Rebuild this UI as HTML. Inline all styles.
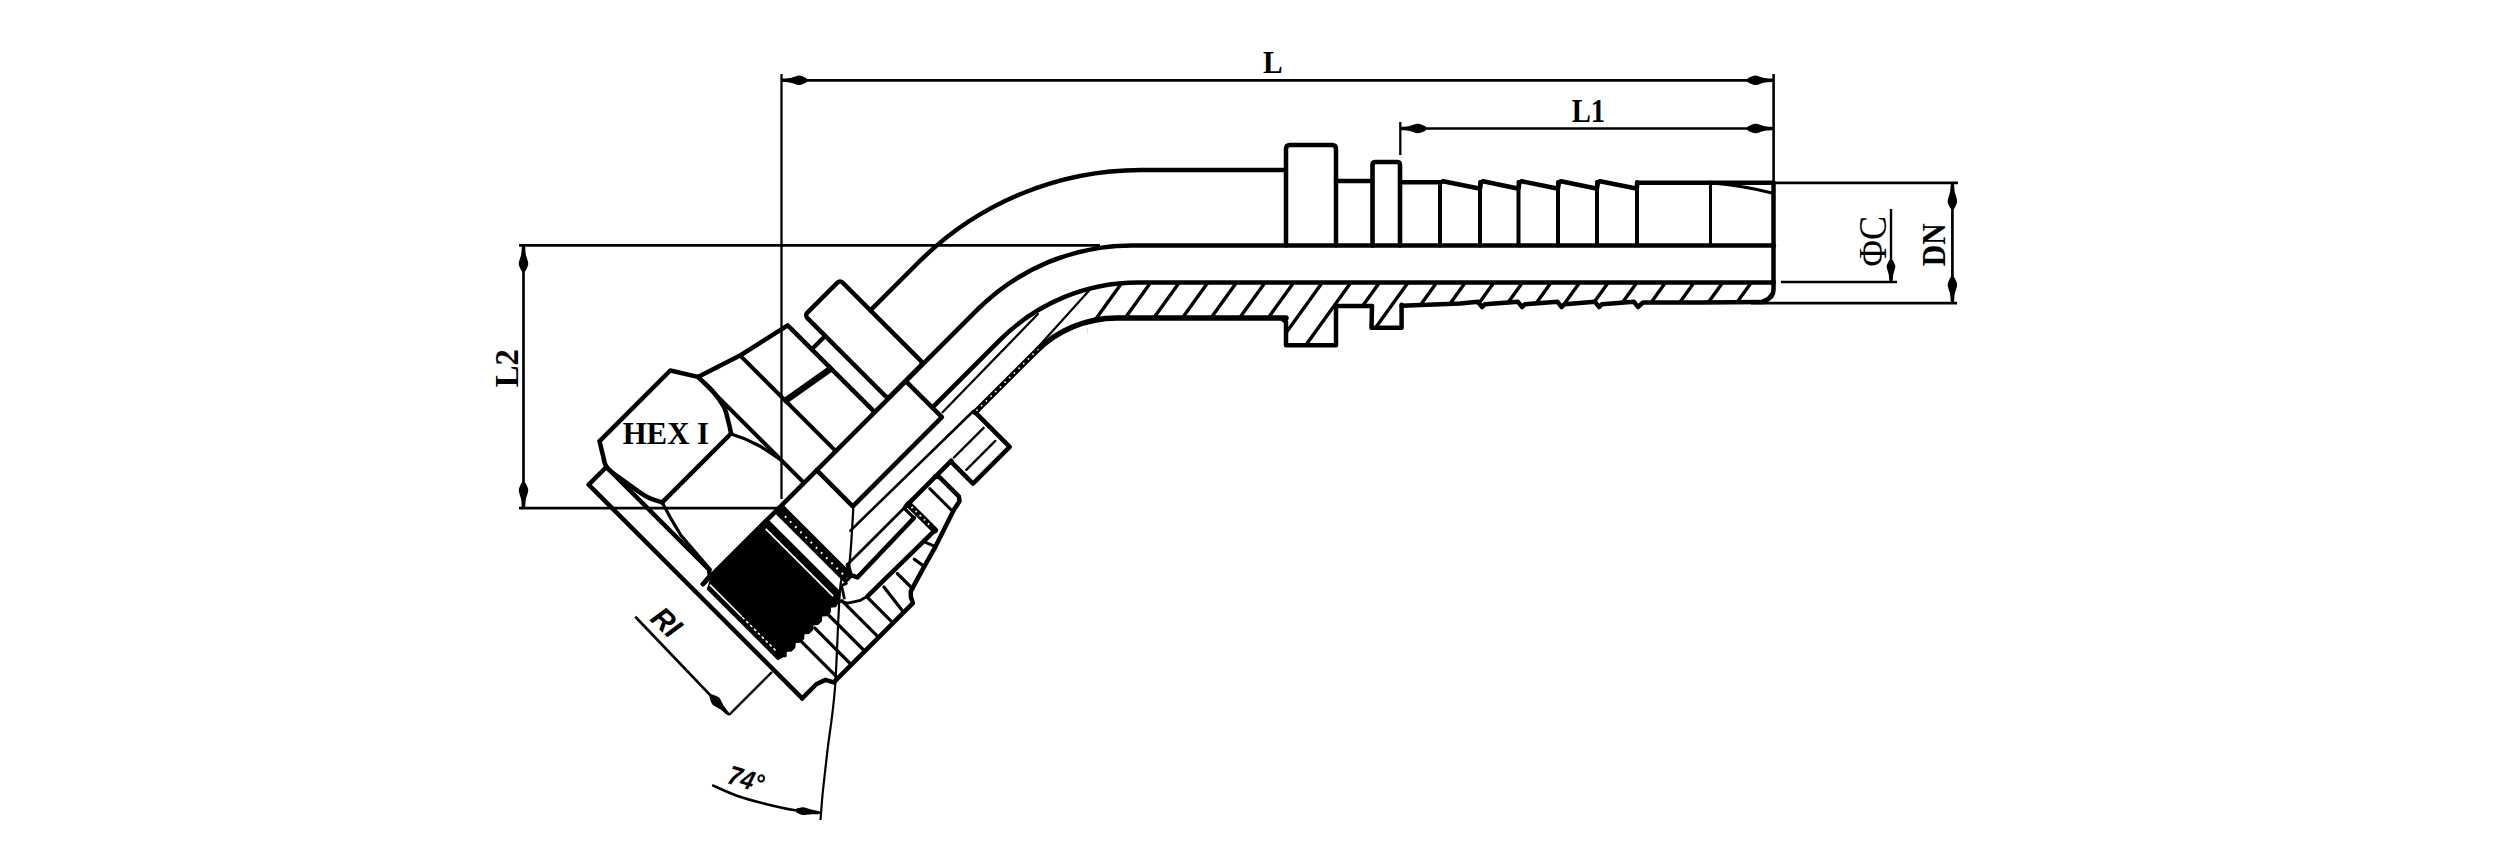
<!DOCTYPE html>
<html><head><meta charset="utf-8"><style>
html,body{margin:0;padding:0;background:#fff;width:2500px;height:854px;overflow:hidden}
svg{display:block}
</style></head><body>
<svg width="2500" height="854" viewBox="0 0 2500 854"><g stroke="#000" fill="none" stroke-linecap="butt">
<line x1="781" y1="80.3" x2="1773.5" y2="80.3" stroke-width="2.7"/>
<path d="M782.5,78.6 C783.7,78.5 787.3,78.4 789.7,78 C792.1,77.6 795.1,76.3 796.9,75.9 C798.7,75.5 799.3,75.5 800.5,75.7 C801.7,75.9 803,76.5 804.1,77.1 C805.2,77.6 806.5,78.1 807,78.9 C807.5,79.7 807.5,80.9 807,81.7 C806.5,82.5 805.2,83 804.1,83.5 C803,84.1 801.7,84.7 800.5,84.9 C799.3,85.1 798.7,85.1 796.9,84.7 C795.1,84.3 792.1,83 789.7,82.6 C787.3,82.2 783.7,82.1 782.5,82 Z" fill="#000" stroke="none"/>
<path d="M1772,82 C1770.8,82.1 1767.2,82.2 1764.8,82.6 C1762.4,83 1759.4,84.3 1757.6,84.7 C1755.8,85.1 1755.2,85.1 1754,84.9 C1752.8,84.7 1751.5,84.1 1750.4,83.5 C1749.3,83 1748,82.5 1747.5,81.7 C1747,80.9 1747,79.7 1747.5,78.9 C1748,78.1 1749.3,77.6 1750.4,77.1 C1751.5,76.5 1752.8,75.9 1754,75.7 C1755.2,75.5 1755.8,75.5 1757.6,75.9 C1759.4,76.3 1762.4,77.6 1764.8,78 C1767.2,78.4 1770.8,78.5 1772,78.6 Z" fill="#000" stroke="none"/>
<line x1="781.5" y1="74" x2="781.5" y2="499" stroke-width="2.3"/>
<line x1="1773.6" y1="74" x2="1773.6" y2="185" stroke-width="2.6"/>
<line x1="1400" y1="128.5" x2="1773.5" y2="128.5" stroke-width="2.7"/>
<path d="M1401.5,126.8 C1402.7,126.7 1406.3,126.6 1408.7,126.2 C1411.1,125.8 1414.1,124.5 1415.9,124.1 C1417.7,123.7 1418.3,123.7 1419.5,123.9 C1420.7,124.1 1422,124.7 1423.1,125.3 C1424.2,125.8 1425.5,126.3 1426,127.1 C1426.5,127.9 1426.5,129.1 1426,129.9 C1425.5,130.7 1424.2,131.2 1423.1,131.7 C1422,132.3 1420.7,132.9 1419.5,133.1 C1418.3,133.3 1417.7,133.3 1415.9,132.9 C1414.1,132.5 1411.1,131.2 1408.7,130.8 C1406.3,130.4 1402.7,130.3 1401.5,130.2 Z" fill="#000" stroke="none"/>
<path d="M1772,130.2 C1770.8,130.3 1767.2,130.4 1764.8,130.8 C1762.4,131.2 1759.4,132.5 1757.6,132.9 C1755.8,133.3 1755.2,133.3 1754,133.1 C1752.8,132.9 1751.5,132.3 1750.4,131.7 C1749.3,131.2 1748,130.7 1747.5,129.9 C1747,129.1 1747,127.9 1747.5,127.1 C1748,126.3 1749.3,125.8 1750.4,125.3 C1751.5,124.7 1752.8,124.1 1754,123.9 C1755.2,123.7 1755.8,123.7 1757.6,124.1 C1759.4,124.5 1762.4,125.8 1764.8,126.2 C1767.2,126.6 1770.8,126.7 1772,126.8 Z" fill="#000" stroke="none"/>
<line x1="1400.3" y1="122" x2="1400.3" y2="155" stroke-width="2.3"/>
<line x1="519" y1="245.4" x2="1100" y2="245.4" stroke-width="2.7"/>
<line x1="519" y1="508.2" x2="777" y2="508.2" stroke-width="2.7"/>
<line x1="523.5" y1="246" x2="523.5" y2="508" stroke-width="2.7"/>
<path d="M525.2,247 C525.3,248.2 525.4,251.8 525.8,254.2 C526.2,256.6 527.5,259.6 527.9,261.4 C528.3,263.2 528.3,263.8 528.1,265 C527.9,266.2 527.3,267.5 526.7,268.6 C526.2,269.7 525.7,271 524.9,271.5 C524.1,272 522.9,272 522.1,271.5 C521.3,271 520.8,269.7 520.3,268.6 C519.7,267.5 519.1,266.2 518.9,265 C518.7,263.8 518.7,263.2 519.1,261.4 C519.5,259.6 520.8,256.6 521.2,254.2 C521.6,251.8 521.7,248.2 521.8,247 Z" fill="#000" stroke="none"/>
<path d="M521.8,507 C521.7,505.8 521.6,502.2 521.2,499.8 C520.8,497.4 519.5,494.4 519.1,492.6 C518.7,490.8 518.7,490.2 518.9,489 C519.1,487.8 519.7,486.5 520.3,485.4 C520.8,484.3 521.3,483 522.1,482.5 C522.9,482 524.1,482 524.9,482.5 C525.7,483 526.2,484.3 526.7,485.4 C527.3,486.5 527.9,487.8 528.1,489 C528.3,490.2 528.3,490.8 527.9,492.6 C527.5,494.4 526.2,497.4 525.8,499.8 C525.4,502.2 525.3,505.8 525.2,507 Z" fill="#000" stroke="none"/>
<line x1="1773.5" y1="182.8" x2="1958" y2="182.8" stroke-width="2.7"/>
<line x1="1751" y1="303.2" x2="1957" y2="303.2" stroke-width="2.7"/>
<line x1="1952.4" y1="183" x2="1952.4" y2="303" stroke-width="2.7"/>
<path d="M1954.1,184.5 C1954.2,185.7 1954.3,189.3 1954.7,191.7 C1955.1,194.1 1956.4,197.1 1956.8,198.9 C1957.2,200.7 1957.2,201.3 1957,202.5 C1956.8,203.7 1956.2,205 1955.6,206.1 C1955.1,207.2 1954.6,208.5 1953.8,209 C1953,209.5 1951.8,209.5 1951,209 C1950.2,208.5 1949.7,207.2 1949.2,206.1 C1948.6,205 1948,203.7 1947.8,202.5 C1947.6,201.3 1947.6,200.7 1948,198.9 C1948.4,197.1 1949.7,194.1 1950.1,191.7 C1950.5,189.3 1950.6,185.7 1950.7,184.5 Z" fill="#000" stroke="none"/>
<path d="M1950.7,301.5 C1950.6,300.3 1950.5,296.7 1950.1,294.3 C1949.7,291.9 1948.4,288.9 1948,287.1 C1947.6,285.3 1947.6,284.7 1947.8,283.5 C1948,282.3 1948.6,281 1949.2,279.9 C1949.7,278.8 1950.2,277.5 1951,277 C1951.8,276.5 1953,276.5 1953.8,277 C1954.6,277.5 1955.1,278.8 1955.6,279.9 C1956.2,281 1956.8,282.3 1957,283.5 C1957.2,284.7 1957.2,285.3 1956.8,287.1 C1956.4,288.9 1955.1,291.9 1954.7,294.3 C1954.3,296.7 1954.2,300.3 1954.1,301.5 Z" fill="#000" stroke="none"/>
<line x1="1781" y1="282" x2="1897" y2="282" stroke-width="2.7"/>
<line x1="1891" y1="209" x2="1891" y2="281" stroke-width="2.4"/>
<path d="M1889.3,280.5 C1889.2,279.5 1889.1,276.5 1888.7,274.5 C1888.3,272.5 1887.3,270 1887,268.5 C1886.7,267 1886.6,266.5 1886.8,265.5 C1887,264.5 1887.6,263.4 1888.1,262.5 C1888.5,261.6 1888.9,260.5 1889.6,260.1 C1890.3,259.7 1891.7,259.7 1892.4,260.1 C1893.1,260.5 1893.5,261.6 1893.9,262.5 C1894.4,263.4 1895,264.5 1895.2,265.5 C1895.4,266.5 1895.3,267 1895,268.5 C1894.7,270 1893.7,272.5 1893.3,274.5 C1892.9,276.5 1892.8,279.5 1892.7,280.5 Z" fill="#000" stroke="none"/>
<line x1="635.3" y1="616.7" x2="729.1" y2="714.9" stroke-width="2.7"/>
<path d="M726.3,714.5 C725.4,713.7 722.8,711.1 720.9,709.7 C718.9,708.2 715.9,706.9 714.4,705.9 C712.9,704.8 712.4,704.4 711.8,703.4 C711.1,702.4 710.6,701 710.3,699.9 C709.9,698.7 709.4,697.4 709.6,696.5 C709.8,695.7 710.7,694.8 711.6,694.6 C712.5,694.4 713.8,695 714.9,695.4 C716.1,695.9 717.5,696.4 718.4,697.1 C719.4,697.8 719.8,698.3 720.7,699.9 C721.7,701.4 722.9,704.5 724.2,706.5 C725.5,708.5 728,711.2 728.7,712.1 Z" fill="#000" stroke="none"/>
<line x1="729.1" y1="714.9" x2="772" y2="672" stroke-width="2.4"/>
<path d="M853.5,505 C852.8,515.3 851.1,553.8 849,567 C846.9,580.2 843,564.1 840.6,584.4 C838.2,604.7 837.1,661.4 834.9,689 C832.7,716.6 829.5,733.2 827.5,750 C825.5,766.8 824.2,778.3 823,790 C821.8,801.7 820.9,815 820.5,820" stroke-width="2.2" fill="none" />
<path d="M712.2,785.1 C716.4,786.9 728.6,792.8 737.5,795.9 C746.4,799 756.2,801.5 765.6,803.9 C775,806.2 784.6,808.5 793.7,810 C802.8,811.5 815.6,812.3 820,812.8" stroke-width="2.6" fill="none" />
<path d="M818.3,814.4 C817.2,814.4 813.9,814.2 811.7,814.3 C809.5,814.4 806.7,814.9 805,815 C803.3,815.1 802.8,815.1 801.7,814.8 C800.6,814.6 799.5,813.9 798.5,813.4 C797.6,812.9 796.4,812.6 796,811.9 C795.7,811.1 795.8,809.7 796.3,809.1 C796.8,808.4 798,808.4 799.1,808.1 C800.1,807.8 801.3,807.3 802.5,807.3 C803.6,807.2 804.1,807.4 805.7,807.8 C807.3,808.2 810,809.2 812.2,809.8 C814.3,810.3 817.6,810.8 818.7,811 Z" fill="#000" stroke="none"/>
</g>
<g stroke="#000" fill="none" stroke-linejoin="round" stroke-linecap="round">
<defs><clipPath id="hc"><polygon points="1088.9,288.9 1092.6,288 1096.3,287.1 1100.1,286.3 1103.9,285.6 1107.6,285 1111.4,284.4 1115.2,284 1119,283.5 1122.8,283.2 1126.7,282.9 1130.5,282.8 1134.3,282.6 1138.1,282.6 1774,282.6 1774,296 1766,303 1401.6,304.8 1401.6,327.8 1371.6,327.8 1371.6,306 1336.5,306 1336.5,345.3 1285.9,345.3 1285.9,318 1117,318 1114.7,318 1112.5,318.1 1110.2,318.2 1108,318.4 1105.7,318.6 1103.5,318.8 1101.2,319.1 1099,319.4 1096.8,319.8 1094.5,320.2 1092.3,320.7 1090.1,321.2 1087.9,321.7 1086,400"/></clipPath></defs>
<path d="M1016.3,350 L1073.9,270 M1044.9,350 L1102.5,270 M1073.5,350 L1131.1,270 M1102.1,350 L1159.7,270 M1130.7,350 L1188.3,270 M1159.3,350 L1216.9,270 M1187.9,350 L1245.5,270 M1216.5,350 L1274.1,270 M1245.1,350 L1302.7,270 M1273.7,350 L1331.3,270 M1302.3,350 L1359.9,270 M1330.9,350 L1388.5,270 M1359.5,350 L1417.1,270 M1388.1,350 L1445.7,270 M1416.7,350 L1474.3,270 M1445.3,350 L1502.9,270 M1473.9,350 L1531.5,270 M1502.5,350 L1560.1,270 M1531.1,350 L1588.7,270 M1559.7,350 L1617.3,270 M1588.3,350 L1645.9,270 M1616.9,350 L1674.5,270 M1645.5,350 L1703.1,270 M1674.1,350 L1731.7,270 M1702.7,350 L1760.3,270 M1731.3,350 L1788.9,270 M1759.9,350 L1817.5,270 M1788.5,350 L1846.1,270" stroke-width="3.4" clip-path="url(#hc)"/>
<path d="M870.4,310.4 L918.6,262.3 A315,315 0 0 1 1141.3,170 L1286,170" stroke-width="4.4" fill="none" />
<path d="M702.9,584.1 L977.6,309.4 A218,218 0 0 1 1131.7,245.5 L1774,245.5" stroke-width="4.5" fill="none" />
<path d="M932.3,407.6 L1000.3,339.7 A195,195 0 0 1 1138.1,282.6 L1774,282.6" stroke-width="4.5" fill="none" />
<path d="M975.1,412.2 L1035.7,351.7 A115,115 0 0 1 1117,318 L1286,318" stroke-width="5.5" fill="none" />
<path d="M1286,245.5 L1286,149 Q1286,145 1290,145 L1332,145 Q1336,145 1336,149 L1336,245.5" stroke-width="4.5" fill="none" />
<polyline points="1282,318.5 1286,322 1286,345.3 1336,345.3 1336,306" stroke-width="4.5" fill="none" />
<line x1="1336" y1="181" x2="1372" y2="181" stroke-width="4.5"/>
<line x1="1336.5" y1="306" x2="1372" y2="306" stroke-width="4.5"/>
<path d="M1372.5,245.5 L1372.5,165 Q1372.5,162 1375.5,162 L1397,162 Q1400,162 1400,165 L1400,245.5" stroke-width="4.6" fill="none" />
<polyline points="1372,306 1371.5,327.8 1401.6,327.8 1401.6,304.8" stroke-width="4.5" fill="none" />
<polyline points="1400,182.2 1440,182.2 1441,182.5 1443,181.2 1478,188.3 1480,188.5 1481,182.5 1483,181.2 1516.5,188.3 1518.5,188.5 1519.5,182.5 1521.5,181.2 1556,188.3 1558,188.5 1559,182.5 1561,181.2 1595,188.3 1597,188.5 1598,182.5 1600,181.2 1635,188.3 1637,188.5 1637,182.8 1773.5,182.8" stroke-width="4.5" fill="none" />
<line x1="1440" y1="182" x2="1440" y2="245.5" stroke-width="4"/>
<line x1="1480" y1="182" x2="1480" y2="245.5" stroke-width="4"/>
<line x1="1518.5" y1="182" x2="1518.5" y2="245.5" stroke-width="4"/>
<line x1="1558" y1="182" x2="1558" y2="245.5" stroke-width="4"/>
<line x1="1597" y1="182" x2="1597" y2="245.5" stroke-width="4"/>
<line x1="1637" y1="182" x2="1637" y2="245.5" stroke-width="4"/>
<line x1="1710.5" y1="182" x2="1710.5" y2="245.5" stroke-width="3"/>
<path d="M1713,183 Q1745,186 1772,193" stroke-width="3" fill="none" />
<path d="M1773.5,183 L1773.5,290 Q1773.5,298 1764,301" stroke-width="4.5" fill="none" />
<polyline points="1764,302 1700,302.5 1643,302.5 1641,304.2 1638,307 1634,301.8 1605,304 1602,304.2 1599,307 1595,301.8 1567.5,304 1564.5,304.2 1561.5,307 1557.5,301.8 1528,304 1525,304.2 1522,307 1518,301.8 1488,304 1485,304.2 1482,307 1478,301.8 1460,303.5 1401.6,305.8" stroke-width="4.5" fill="none" />
</g>
<g stroke="#000" fill="none" stroke-linejoin="round" stroke-linecap="round">
<polyline points="695.4,591.5 588.7,484.7 606.4,467 708.9,569.5 709.9,575.6 702.9,584.1" stroke-width="4.5" fill="none" />
<line x1="695.4" y1="591.5" x2="802.2" y2="698.3" stroke-width="4.5"/>
<path d="M599.6,441.2 C600.2,443.5 601.6,450.2 602.8,454.6 C604.1,459 603.6,463.3 607.1,467.7 C610.6,472.1 617.1,476 623.7,480.8 C630.3,485.7 640.3,493.2 646.7,496.8 C653.1,500.4 659.6,501.5 662.2,502.4" stroke-width="4.5" fill="none" />
<polyline points="599.6,441.2 670.3,370.5 697.9,376.9" stroke-width="4.5" fill="none" />
<path d="M697.9,376.9 C700.3,379.2 708,385.6 712.4,390.7 C716.8,395.7 721.4,402.2 724.1,407.3 C726.7,412.4 727.1,417.1 728.3,421.4 C729.5,425.8 730.7,431.5 731.1,433.5" stroke-width="4.5" fill="none" />
<polyline points="662.2,502.4 731.1,433.5" stroke-width="4.5" fill="none" />
<polyline points="731.9,434.2 743.9,438.4 760.1,446.2 780.6,459.6" stroke-width="3.2" fill="none" />
<polyline points="662.2,502.4 670.3,517.6 680.9,535.3 710.3,569.6" stroke-width="3.2" fill="none" />
<line x1="697.9" y1="376.9" x2="803.3" y2="482.2" stroke-width="4"/>
<polyline points="697.9,376.9 741,355 787.7,325.3 874.7,412.2" stroke-width="4.5" fill="none" />
<line x1="740.3" y1="355.7" x2="835.1" y2="450.4" stroke-width="4"/>
<line x1="786.3" y1="400.2" x2="830.1" y2="369.1" stroke-width="6.5"/>
<line x1="811.8" y1="349.3" x2="825.2" y2="335.9" stroke-width="4.2"/>
<rect x="346" y="792" width="50" height="117.5" rx="3.5" transform="rotate(-45)" stroke-width="4.5"/>
<polyline points="816.7,470.2 852.8,506.3 941.9,417.2 905.8,381.1" stroke-width="4.5" fill="none" />
<polygon points="713.5,572 766.5,519 839.3,591.8 838.6,601 835.4,606.3 830.1,606.7 829.8,612 826.6,615.2 821.3,615.5 821,620.8 817.8,624 812.5,624.4 812.1,629.7 808.9,632.9 803.6,633.2 803.3,638.5 800.1,641.7 794.8,642.1 794.4,647.4 791.3,650.5 785.9,650.9 785.6,656.2 783.5,656.2 777.8,659 707.8,589" fill="#000" stroke="#000" stroke-width="2" stroke-linejoin="round"/>
<g stroke="#fff">
<line x1="766.2" y1="529.3" x2="832.6" y2="595.7" stroke-width="1.8"/>
<line x1="710.3" y1="585.1" x2="741.4" y2="616.2" stroke-width="1.6"/>
</g>
<g stroke="#fff" stroke-dasharray="1.5 4">
<line x1="742.8" y1="617.7" x2="776.8" y2="651.6" stroke-width="1.6"/>
</g>
<g stroke-linecap="butt">
<line x1="779.9" y1="509.8" x2="849.9" y2="579.8" stroke-width="12"/>
</g>
<g stroke="#fff" stroke-dasharray="1.8 5.5" stroke-linecap="butt">
<line x1="784.9" y1="516.2" x2="847.1" y2="578.4" stroke-width="2"/>
</g>
<polyline points="838.6,601 847.8,603.2 860.5,600.3 867.6,596.1" stroke-width="2.8" fill="none" />
<polyline points="846.4,583.4 841.5,585.5 844.3,598.2" stroke-width="2.8" fill="none" />
<polyline points="802.2,698.3 816.5,684 825.5,679.9 833.7,682.4 912.9,603.2 910.8,596.8 910.8,591.1 922.8,569.2 935.5,546.6 953.9,509.8 959.5,501.3 958.8,496.4 939.7,477.3 934.8,476.6" stroke-width="4.5" fill="none" />
<line x1="801.2" y1="641.3" x2="837.2" y2="677.4" stroke-width="3.2"/>
<line x1="814.6" y1="627.9" x2="850.6" y2="664" stroke-width="3.2"/>
<line x1="828" y1="614.5" x2="864.1" y2="650.5" stroke-width="3.2"/>
<line x1="841.8" y1="600.7" x2="877.9" y2="636.7" stroke-width="3.2"/>
<line x1="866.9" y1="596.8" x2="892.4" y2="622.3" stroke-width="3.2"/>
<line x1="883.9" y1="586.9" x2="903" y2="611.6" stroke-width="3.2"/>
<line x1="897.3" y1="573.5" x2="912.9" y2="589" stroke-width="3.2"/>
<line x1="914.3" y1="559.3" x2="924.2" y2="566.4" stroke-width="3.2"/>
<line x1="925.6" y1="542.4" x2="935.5" y2="546.6" stroke-width="3"/>
<line x1="867.6" y1="596.1" x2="934.8" y2="530.3" stroke-width="4.5"/>
<line x1="929.8" y1="488.6" x2="951.8" y2="510.5" stroke-width="3"/>
<line x1="908.6" y1="504.2" x2="934.8" y2="530.3" stroke-width="6.5"/>
<g stroke="#fff" stroke-dasharray="1.6 4.2" stroke-linecap="butt">
<line x1="911.5" y1="507" x2="932" y2="527.5" stroke-width="1.8"/>
</g>
<polyline points="847.5,564.6 905.5,506.6" stroke-width="2.8" fill="none" />
<path d="M905.1,509.1 C906.6,510.6 912.5,516.5 913.9,518" stroke-width="3.2" fill="none" />
<polyline points="913.9,518 857.4,577.4 850.6,574.9 847.8,565" stroke-width="4.5" fill="none" />
<line x1="905.5" y1="506.6" x2="951.4" y2="460.7" stroke-width="4.5"/>
<line x1="850.3" y1="530.7" x2="973.7" y2="410.8" stroke-width="2.6"/>
<polyline points="976.5,413.7 1009.7,446.9 973,483.7 950.7,461.4" stroke-width="4.5" fill="none" />
<line x1="953.9" y1="457.5" x2="983.6" y2="427.8" stroke-width="2.4"/>
<line x1="966.3" y1="469.9" x2="995.3" y2="440.9" stroke-width="2.4"/>
<g stroke="#fff" stroke-dasharray="1.6 5" stroke-linecap="butt">
<line x1="976.5" y1="410.8" x2="1038.7" y2="348.6" stroke-width="1.6"/>
</g>
<line x1="942.6" y1="412.2" x2="1038" y2="314" stroke-width="2.2"/>
<line x1="1036.3" y1="349" x2="1088.7" y2="291.1" stroke-width="2.2"/>
</g>
<text transform="translate(1263.1,72.8) scale(0.920,1.005)" font-family="Liberation Serif" font-size="32" font-weight="bold" font-style="normal" fill="#000">L</text>
<text transform="translate(1571.7,122) scale(0.897,1.030)" font-family="Liberation Serif" font-size="32" font-weight="bold" font-style="normal" fill="#000">L1</text>
<text transform="translate(622.7,443.7) scale(0.961,1.014)" font-family="Liberation Serif" font-size="32" font-weight="bold" font-style="normal" fill="#000">HEX I</text>
<text transform="translate(518,387.2) rotate(-90) scale(1.020,1.081)" font-family="Liberation Serif" font-size="32" font-weight="bold" font-style="normal" fill="#000">L2</text>
<text transform="translate(1945.4,266.2) rotate(-90) scale(0.924,1.081)" font-family="Liberation Serif" font-size="32" font-weight="bold" font-style="normal" fill="#000">DN</text>
<text transform="translate(1885.8,266.4) rotate(-90) scale(1.129,1.252)" font-family="Liberation Serif" font-size="32" font-weight="normal" font-style="normal" fill="#000">&#934;C</text>
<text transform="translate(649,620) rotate(43) scale(0.950,1.000)" font-family="Liberation Sans" font-size="30" font-weight="bold" font-style="italic" fill="#000">RI</text>
<text transform="translate(726,783) rotate(17) scale(0.880,1.000)" font-family="Liberation Sans" font-size="27" font-weight="bold" font-style="italic" fill="#000">74°</text></svg>
</body></html>
